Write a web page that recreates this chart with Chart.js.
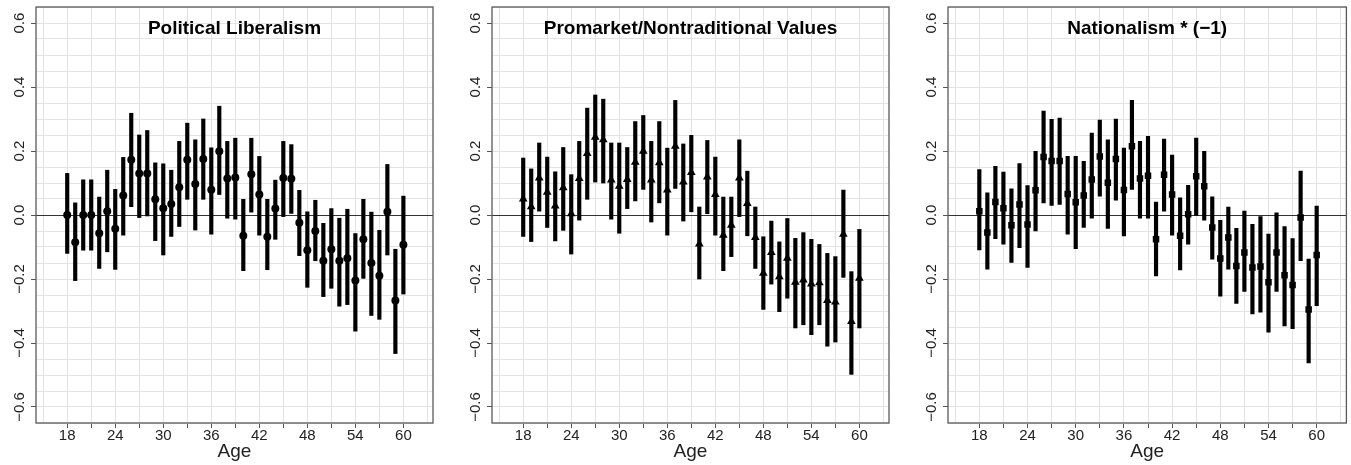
<!DOCTYPE html>
<html>
<head>
<meta charset="utf-8">
<script src="https://cdn.jsdelivr.net/npm/chart.js@4.4.0/dist/chart.umd.min.js"></script>
<style>
html, body { margin: 0; padding: 0; background: #fff; }
#wrap { position: relative; width: 1351px; height: 465px; }
canvas { position: absolute; top: 0; }
</style>
</head>
<body>
<div id="wrap">
  <canvas id="c1" width="450" height="465" style="left:0px"></canvas>
  <canvas id="c2" width="450" height="465" style="left:450px"></canvas>
  <canvas id="c3" width="451" height="465" style="left:900px"></canvas>
</div>
<script>
// ages on the x axis
const ages = [18, 19, 20, 21, 22, 23, 24, 25, 26, 27, 28, 29, 30, 31, 32, 33, 34, 35, 36, 37, 38, 39,
    40, 41, 42, 43, 44, 45, 46, 47, 48, 49, 50, 51, 52, 53, 54, 55, 56, 57, 58, 59, 60]
const xLabels = [18, 24, 30, 36, 42, 48, 54, 60]
const yLabels = [-0.6, -0.4, -0.2, 0.0, 0.2, 0.4, 0.6]

// Political Liberalism
const libEst = [0.00, -0.085, 0.00, 0.00, -0.057, 0.012, -0.043, 0.061, 0.173, 0.13, 0.13, 0.049, 0.021, 0.034,
    0.087, 0.173, 0.097, 0.175, 0.079, 0.199, 0.114, 0.117, -0.065, 0.127, 0.064, -0.068, 0.02, 0.116, 0.113,
    -0.024, -0.11, -0.05, -0.143, -0.107, -0.143, -0.135, -0.205, -0.076, -0.15, -0.19, 0.01, -0.267, -0.093]
const libHi = [0.13, 0.038, 0.11, 0.11, 0.056, 0.14, 0.08, 0.18, 0.318, 0.25, 0.264, 0.163, 0.16, 0.14,
    0.23, 0.287, 0.235, 0.30, 0.21, 0.34, 0.23, 0.24, 0.049, 0.24, 0.183, 0.049, 0.109, 0.23, 0.22,
    0.077, 0.01, 0.046, -0.026, 0.02, -0.01, 0.018, -0.058, 0.049, 0.009, -0.048, 0.158, -0.107, 0.059]
const libLo = [-0.12, -0.205, -0.11, -0.11, -0.167, -0.115, -0.17, -0.063, 0.026, -0.008, -0.003, -0.08, -0.125, -0.067,
    -0.036, 0.049, -0.047, 0.049, -0.06, 0.064, -0.01, -0.013, -0.174, 0.009, -0.063, -0.171, -0.076, -0.005, 0.005,
    -0.127, -0.226, -0.143, -0.255, -0.229, -0.285, -0.28, -0.363, -0.198, -0.314, -0.326, -0.125, -0.433, -0.247]

// Promarket/Nontraditional Values
const proEst = [0.05, 0.026, 0.116, 0.071, 0.028, 0.085, 0.004, 0.114, 0.192, 0.243, 0.235, 0.109, 0.09, 0.111,
    0.165, 0.199, 0.109, 0.163, 0.078, 0.215, 0.103, 0.133, -0.091, 0.119, 0.064, -0.063, -0.032, 0.116, 0.036,
    -0.07, -0.182, -0.117, -0.193, -0.135, -0.21, -0.203, -0.216, -0.212, -0.267, -0.272, -0.06, -0.333, -0.198]
const proHi = [0.178, 0.144, 0.225, 0.181, 0.135, 0.211, 0.126, 0.23, 0.334, 0.375, 0.362, 0.225, 0.225, 0.211,
    0.292, 0.311, 0.23, 0.292, 0.209, 0.358, 0.222, 0.249, 0.025, 0.233, 0.181, 0.056, 0.056, 0.235, 0.137,
    0.025, -0.068, -0.019, -0.084, -0.011, -0.073, -0.055, -0.076, -0.092, -0.12, -0.13, 0.078, -0.177, -0.045]
const proLo = [-0.067, -0.083, 0.012, -0.039, -0.081, -0.048, -0.122, -0.016, 0.049, 0.103, 0.10, -0.013, -0.057, 0.02,
    0.044, 0.08, -0.022, 0.038, -0.063, 0.083, -0.019, 0.01, -0.2, 0.004, -0.063, -0.174, -0.13, -0.005, -0.065,
    -0.167, -0.295, -0.216, -0.302, -0.26, -0.353, -0.343, -0.374, -0.343, -0.41, -0.397, -0.195, -0.498, -0.353]

// Nationalism * (-1)
const natEst = [0.012, -0.055, 0.041, 0.021, -0.032, 0.033, -0.03, 0.077, 0.181, 0.169, 0.169, 0.066, 0.04, 0.061,
    0.111, 0.183, 0.101, 0.175, 0.078, 0.215, 0.114, 0.123, -0.076, 0.126, 0.064, -0.065, 0.002, 0.121, 0.09,
    -0.039, -0.136, -0.07, -0.159, -0.117, -0.164, -0.161, -0.21, -0.117, -0.188, -0.219, -0.008, -0.295, -0.125]
const natHi = [0.142, 0.069, 0.152, 0.134, 0.082, 0.161, 0.092, 0.199, 0.325, 0.299, 0.303, 0.183, 0.183, 0.168,
    0.256, 0.297, 0.235, 0.30, 0.209, 0.358, 0.23, 0.246, 0.04, 0.237, 0.187, 0.054, 0.093, 0.24, 0.199,
    0.057, -0.017, 0.025, -0.042, 0.012, -0.029, -0.005, -0.06, 0.007, -0.036, -0.074, 0.137, -0.138, 0.028]
const natLo = [-0.109, -0.169, -0.074, -0.091, -0.148, -0.102, -0.164, -0.05, 0.038, 0.03, 0.033, -0.06, -0.105, -0.039,
    -0.01, 0.059, -0.042, 0.046, -0.065, 0.08, -0.01, -0.01, -0.19, 0.012, -0.063, -0.172, -0.091, -0.001, -0.016,
    -0.138, -0.254, -0.169, -0.276, -0.239, -0.309, -0.304, -0.366, -0.239, -0.347, -0.355, -0.143, -0.462, -0.283]

const FONT = '"Liberation Sans", Arial, Helvetica, sans-serif'

const gPanels = [
    { id: 'c1', title: 'Political Liberalism', est: libEst, lo: libLo, hi: libHi, shape: 'circle', radius: 4, axisW: 36, padR: 17 },
    { id: 'c2', title: 'Promarket/Nontraditional Values', est: proEst, lo: proLo, hi: proHi, shape: 'triangle', radius: 5, axisW: 42, padR: 11 },
    { id: 'c3', title: 'Nationalism * (\u22121)', est: natEst, lo: natLo, hi: natHi, shape: 'rect', radius: 4.6, axisW: 48, padR: 4 }
]

function isMultiple(v, step) {
    return Math.abs(v / step - Math.round(v / step)) < 1e-6
}

function fmtY(v) {
    const s = Math.abs(v).toFixed(1)
    return v < -1e-9 ? '\u2212' + s : s
}

// khung, tiêu đề và nhãn trục y xoay dọc
const panelDecor = {
    id: 'panelDecor',
    afterDraw(chart, args, opts) {
        const { ctx, chartArea: a, scales } = chart
        ctx.save()
        ctx.strokeStyle = '#5a5a5a'
        ctx.lineWidth = 1.3
        ctx.strokeRect(a.left, a.top, a.right - a.left, a.bottom - a.top)

        ctx.fillStyle = '#000'
        ctx.font = 'bold 19px ' + FONT
        ctx.textAlign = 'center'
        ctx.textBaseline = 'middle'
        ctx.fillText(opts.title, (a.left + a.right) / 2, a.top + 22)

        ctx.font = '15px ' + FONT
        ctx.fillStyle = '#222'
        yLabels.forEach(v => {
            const y = scales.y.getPixelForValue(v)
            ctx.save()
            ctx.translate(a.left - 16, y)
            ctx.rotate(-Math.PI / 2)
            ctx.fillText(fmtY(v), 0, 0)
            ctx.restore()
        })
        ctx.restore()
    }
}

function makeChart(p) {
    const ciData = ages.map((a, i) => ({ x: a, y: [p.lo[i], p.hi[i]] }))
    const ptData = ages.map((a, i) => ({ x: a, y: p.est[i] }))
    const ctx = document.getElementById(p.id).getContext('2d')
    return new Chart(ctx, {
        type: 'bar',
        data: {
            datasets: [{
                type: 'scatter',
                data: ptData,
                pointStyle: p.shape,
                pointRadius: p.radius,
                backgroundColor: '#000',
                borderColor: '#000',
                borderWidth: 0,
                order: 1
            }, {
                type: 'bar',
                data: ciData,
                backgroundColor: '#000',
                borderWidth: 0,
                barThickness: 3.5,
                order: 2
            }]
        },
        options: {
            responsive: false,
            animation: false,
            devicePixelRatio: 1,
            layout: { padding: { top: 7, right: p.padR, bottom: 0, left: 0 } },
            plugins: {
                legend: { display: false },
                tooltip: { enabled: false },
                panelDecor: { title: p.title }
            },
            scales: {
                x: {
                    type: 'linear',
                    min: 14.1,
                    max: 63.7,
                    offset: false,
                    border: { display: false },
                    grid: {
                        offset: false,
                        color: '#e3e3e3',
                        lineWidth: 1,
                        tickLength: 5,
                        tickColor: c => (c.tick && c.tick.value >= 18 && c.tick.value <= 60) ? '#555' : 'rgba(0,0,0,0)'
                    },
                    ticks: {
                        stepSize: 3,
                        includeBounds: false,
                        maxTicksLimit: 100,
                        autoSkip: false,
                        maxRotation: 0,
                        padding: 0,
                        color: '#222',
                        font: { family: FONT, size: 15, lineHeight: 1 },
                        callback: v => xLabels.includes(v) ? String(v) : ''
                    },
                    title: {
                        display: true,
                        text: 'Age',
                        color: '#222',
                        font: { family: FONT, size: 19 },
                        padding: { top: 0, bottom: 2 }
                    },
                    afterFit: s => { s.height = 42 }
                },
                y: {
                    min: -0.65,
                    max: 0.65,
                    border: { display: false },
                    grid: {
                        color: c => (c.tick && Math.abs(c.tick.value) < 1e-9) ? '#333' : '#e3e3e3',
                        lineWidth: 1,
                        tickLength: 5,
                        tickColor: c => (c.tick && isMultiple(c.tick.value, 0.2) && Math.abs(c.tick.value) < 0.61) ? '#555' : 'rgba(0,0,0,0)'
                    },
                    ticks: {
                        stepSize: 0.05,
                        maxTicksLimit: 100,
                        display: false
                    },
                    afterFit: s => { s.width = p.axisW }
                }
            }
        },
        plugins: [panelDecor]
    })
}

gPanels.forEach(p => makeChart(p))
</script>
</body>
</html>
